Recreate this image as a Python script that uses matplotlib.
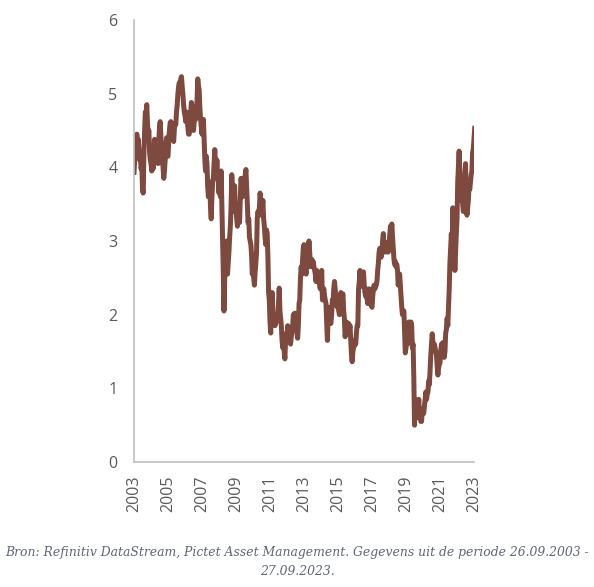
import matplotlib
matplotlib.use("Agg")
import matplotlib.pyplot as plt
import numpy as np

# US 10y yield, semi-monthly readings from Sep 2003 to Sep 2023 (%)
yields = [
    # Sep03 - Aug04
    3.93, 4.10, 4.35, 4.28, 4.45, 4.20, 4.38, 4.25, 4.10, 4.15, 3.98, 4.05,
    3.70, 3.65, 4.20, 4.50, 4.75, 4.70, 4.85, 4.60, 4.45, 4.50, 4.20, 4.10,
    # Sep04 - Aug05
    4.05, 3.95, 4.10, 3.98, 4.20, 4.38, 4.25, 4.20, 4.22, 4.10, 4.05, 4.35,
    4.55, 4.62, 4.40, 4.20, 4.10, 4.00, 3.85, 3.95, 4.10, 4.30, 4.40, 4.15,
    # Sep05 - Aug06
    4.15, 4.35, 4.50, 4.60, 4.62, 4.45, 4.50, 4.38, 4.35, 4.52, 4.60, 4.58,
    4.75, 4.85, 5.00, 5.10, 5.15, 5.05, 5.20, 5.23, 5.10, 5.00, 4.85, 4.75,
    # Sep06 - Aug07
    4.70, 4.62, 4.75, 4.65, 4.55, 4.45, 4.45, 4.60, 4.75, 4.88, 4.80, 4.55,
    4.50, 4.62, 4.70, 4.65, 4.80, 4.90, 5.20, 5.10, 5.05, 4.80, 4.65, 4.55,
    # Sep07 - Aug08
    4.45, 4.55, 4.65, 4.38, 4.10, 3.95, 4.15, 4.05, 3.75, 3.60, 3.70, 3.80,
    3.45, 3.30, 3.60, 3.80, 3.85, 4.05, 4.24, 4.05, 3.95, 4.10, 3.90, 3.80,
    # Sep08 - Aug09
    3.65, 3.80, 3.60, 3.95, 3.50, 3.00, 2.60, 2.05, 2.45, 2.75, 2.90, 3.00,
    2.55, 2.70, 2.85, 3.05, 3.20, 3.45, 3.90, 3.70, 3.40, 3.65, 3.75, 3.45,
    # Sep09 - Aug10
    3.45, 3.30, 3.20, 3.45, 3.50, 3.25, 3.55, 3.85, 3.80, 3.60, 3.70, 3.62,
    3.75, 3.90, 3.97, 3.75, 3.50, 3.25, 3.30, 3.05, 3.00, 2.95, 2.80, 2.55,
    # Sep10 - Aug11
    2.65, 2.50, 2.40, 2.58, 2.70, 2.85, 3.30, 3.40, 3.35, 3.45, 3.65, 3.55,
    3.35, 3.45, 3.55, 3.30, 3.20, 3.05, 2.95, 3.15, 3.10, 2.80, 2.30, 2.20,
    # Sep11 - Aug12
    1.90, 1.75, 2.15, 2.30, 2.05, 1.95, 2.00, 1.85, 1.95, 1.90, 2.00, 1.98,
    2.15, 2.36, 2.05, 1.95, 1.85, 1.65, 1.55, 1.65, 1.50, 1.40, 1.65, 1.75,
    # Sep12 - Aug13
    1.65, 1.85, 1.70, 1.80, 1.65, 1.60, 1.70, 1.78, 1.85, 2.00, 1.95, 2.02,
    1.88, 2.00, 1.75, 1.68, 1.85, 2.15, 2.20, 2.50, 2.65, 2.55, 2.75, 2.90,
    # Sep13 - Aug14
    2.95, 2.65, 2.60, 2.55, 2.70, 2.80, 2.85, 3.00, 2.85, 2.65, 2.70, 2.75,
    2.65, 2.72, 2.65, 2.60, 2.55, 2.45, 2.60, 2.55, 2.50, 2.48, 2.40, 2.35,
    # Sep14 - Aug15
    2.50, 2.60, 2.20, 2.30, 2.35, 2.25, 2.20, 2.15, 1.90, 1.65, 1.95, 2.10,
    2.00, 1.90, 1.88, 2.00, 2.20, 2.15, 2.35, 2.45, 2.35, 2.22, 2.15, 2.10,
    # Sep15 - Aug16
    2.20, 2.05, 2.00, 2.10, 2.30, 2.22, 2.25, 2.28, 2.05, 1.95, 1.70, 1.75,
    1.90, 1.85, 1.75, 1.88, 1.80, 1.85, 1.65, 1.45, 1.36, 1.50, 1.55, 1.58,
    # Sep16 - Aug17
    1.65, 1.60, 1.75, 1.85, 1.85, 2.35, 2.45, 2.60, 2.40, 2.48, 2.42, 2.38,
    2.58, 2.40, 2.30, 2.25, 2.35, 2.22, 2.15, 2.30, 2.35, 2.28, 2.20, 2.12,
    # Sep17 - Aug18
    2.10, 2.25, 2.35, 2.40, 2.35, 2.38, 2.40, 2.45, 2.60, 2.70, 2.85, 2.90,
    2.85, 2.78, 2.85, 3.00, 3.10, 2.85, 2.95, 2.88, 2.85, 2.98, 2.90, 2.85,
    # Sep18 - Aug19
    2.95, 3.08, 3.20, 3.15, 3.23, 3.05, 2.90, 2.75, 2.68, 2.72, 2.65, 2.68,
    2.60, 2.40, 2.50, 2.55, 2.40, 2.25, 2.10, 2.00, 2.05, 2.05, 1.75, 1.48,
    # Sep19 - Aug20
    1.55, 1.85, 1.60, 1.80, 1.90, 1.75, 1.85, 1.90, 1.85, 1.55, 1.60, 1.15,
    0.50, 0.85, 0.65, 0.60, 0.70, 0.68, 0.85, 0.65, 0.62, 0.55, 0.55, 0.72,
    # Sep20 - Aug21
    0.68, 0.66, 0.75, 0.85, 0.95, 0.85, 0.92, 0.95, 1.10, 1.05, 1.25, 1.45,
    1.60, 1.74, 1.62, 1.58, 1.60, 1.55, 1.50, 1.45, 1.30, 1.18, 1.28, 1.32,
    # Sep21 - Aug22
    1.35, 1.50, 1.60, 1.55, 1.62, 1.45, 1.42, 1.50, 1.75, 1.80, 1.95, 1.85,
    2.10, 2.35, 2.70, 2.90, 3.10, 2.80, 3.45, 3.00, 2.90, 2.60, 2.85, 3.10,
    # Sep22 - Sep23
    3.30, 3.80, 4.00, 4.22, 3.85, 3.70, 3.55, 3.85, 3.50, 3.40, 3.65, 3.92,
    4.05, 3.50, 3.35, 3.45, 3.55, 3.75, 3.70, 3.80, 3.90, 3.95, 4.20, 4.25,
    4.40, 4.53,
]

year_ticks = [2003, 2005, 2007, 2009, 2011, 2013, 2015, 2017, 2019, 2021, 2023]
y_ticks = [0, 1, 2, 3, 4, 5, 6]
caption = ("Bron: Refinitiv DataStream, Pictet Asset Management. Gegevens uit de periode 26.09.2003 -\n"
           "27.09.2023.")

t = np.arange(len(yields)) / 24.0

fig = plt.figure(figsize=(5.94, 5.87), dpi=100)
ax = fig.add_axes([0.2256, 0.213, 0.5724, 0.753])

ax.plot(t, yields, color="#7E4A3F", lw=3.6, solid_joinstyle="round")

ax.set_xlim(0, 20)
ax.set_ylim(0, 6)
ax.set_xticks([y - 2003 for y in year_ticks])
ax.set_xticklabels([str(y) for y in year_ticks], rotation=90,
                   fontfamily="Open Sans", fontsize=11.5, color="#595959")
ax.set_yticks(y_ticks)
ax.set_yticklabels([str(v) for v in y_ticks], fontfamily="Open Sans",
                   fontsize=11.5, color="#595959")
ax.tick_params(axis="both", length=0)
ax.tick_params(axis="y", pad=12)
ax.tick_params(axis="x", pad=10)

for s in ["top", "right"]:
    ax.spines[s].set_visible(False)
for s in ["left", "bottom"]:
    ax.spines[s].set_color("#BFBFBF")
    ax.spines[s].set_linewidth(1.2)

fig.text(0.5, 0.015, caption, ha="center", va="bottom", fontfamily="DejaVu Serif",
         style="italic", fontsize=8.9, color="#5F6675", linespacing=1.6)

fig.savefig("out.png", dpi=100)
